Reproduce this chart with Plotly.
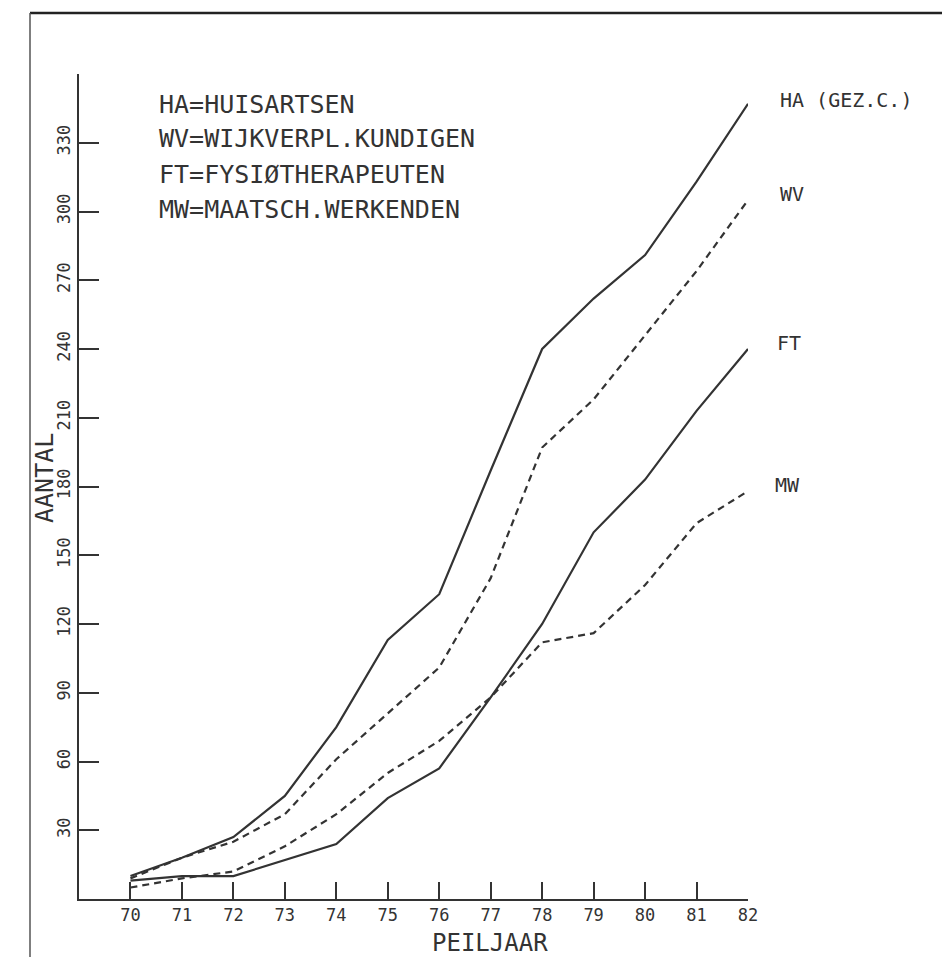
import plotly.graph_objects as go

# ---- data ----
years = [70, 71, 72, 73, 74, 75, 76, 77, 78, 79, 80, 81, 82]
ha = [10, 18, 27, 45, 75, 113, 133, 187, 240, 262, 281, 313, 347]
wv = [9, 18, 25, 37, 61, 81, 101, 140, 197, 218, 246, 274, 305]
ft = [8, 10, 10, 17, 24, 44, 57, 88, 120, 160, 183, 213, 240]
mw = [5, 9, 12, 23, 37, 55, 69, 88, 112, 116, 137, 164, 178]

y_tickvals = [30, 60, 90, 120, 150, 180, 210, 240, 270, 300, 330, 360]
y_ticktext = ["30", "60", "90", "120", "150", "180", "210", "240", "270", "300", "330", ""]
x_tickvals = years
x_ticktext = [str(y) for y in years]

legend_lines = ["HA=HUISARTSEN", "WV=WIJKVERPL.KUNDIGEN",
                "FT=FYSIØTHERAPEUTEN", "MW=MAATSCH.WERKENDEN"]
end_labels = ["HA (GEZ.C.)", "WV", "FT", "MW"]

# ---- layout geometry (pixels) ----
W, H = 950, 957
L, R, T, B = 71, 210, 66, 66
PW, PH = W - L - R, H - T - B

def px(x):
    return (x - L) / PW

def py(y):
    return (H - B - y) / PH

INK = "#333333"
FONT = "DejaVu Sans Mono"

fig = go.Figure()
series = [(ha, "solid"), (wv, "7px,5px"), (ft, "solid"), (mw, "7px,5px")]
for vals, dash in series:
    fig.add_trace(go.Scatter(x=years, y=vals, mode="lines",
                             line=dict(color=INK, width=2.2, dash=dash),
                             showlegend=False, hoverinfo="skip"))

annotations = []
# legend text block
for i, t in enumerate(legend_lines):
    annotations.append(dict(x=px(149), y=py(96 + i * 35), xref="paper", yref="paper",
                            text=t, showarrow=False, xanchor="left", yanchor="middle",
                            font=dict(family=FONT, size=25, color=INK)))
# end labels
end_pos = [(770, 92), (770, 186), (767, 335), (765, 477)]
for t, (x, y) in zip(end_labels, end_pos):
    annotations.append(dict(x=px(x), y=py(y), xref="paper", yref="paper",
                            text=t, showarrow=False, xanchor="left", yanchor="middle",
                            font=dict(family=FONT, size=20, color=INK)))
# axis titles
annotations.append(dict(x=px(36), y=py(470), xref="paper", yref="paper", text="AANTAL",
                        showarrow=False, textangle=-90, xanchor="center", yanchor="middle",
                        font=dict(family=FONT, size=25, color=INK)))
annotations.append(dict(x=px(482), y=py(935), xref="paper", yref="paper", text="PEILJAAR",
                        showarrow=False, xanchor="center", yanchor="middle",
                        font=dict(family=FONT, size=24, color=INK)))

# scanned page frame
shapes = [
    dict(type="line", xref="paper", yref="paper", x0=px(22), x1=px(946), y0=py(5), y1=py(5),
         line=dict(color="#222", width=2.5)),
    dict(type="line", xref="paper", yref="paper", x0=px(22), x1=px(22), y0=py(5), y1=py(953),
         line=dict(color="#555", width=1.5)),
    dict(type="line", xref="paper", yref="paper", x0=px(946), x1=px(946), y0=py(5), y1=py(953),
         line=dict(color="#bbb", width=1)),
    dict(type="line", xref="paper", yref="paper", x0=px(22), x1=px(946), y0=py(953), y1=py(953),
         line=dict(color="#777", width=1.5)),
]

fig.update_layout(
    width=W, height=H,
    margin=dict(l=L, r=R, t=T, b=B),
    paper_bgcolor="white", plot_bgcolor="white",
    annotations=annotations, shapes=shapes,
    xaxis=dict(range=[69, 82], showline=True, linecolor=INK, linewidth=2,
               ticks="inside", ticklen=17, tickwidth=2, tickcolor=INK,
               tickvals=x_tickvals, ticktext=x_ticktext, showgrid=False, zeroline=False,
               tickfont=dict(family=FONT, size=17, color=INK)),
    yaxis=dict(range=[0, 360], showline=True, linecolor=INK, linewidth=2,
               ticks="inside", ticklen=20, tickwidth=2, tickcolor=INK,
               tickvals=y_tickvals, ticktext=y_ticktext, tickangle=-90,
               showgrid=False, zeroline=False,
               tickfont=dict(family=FONT, size=17, color=INK)),
)

fig.write_html("out.html")
